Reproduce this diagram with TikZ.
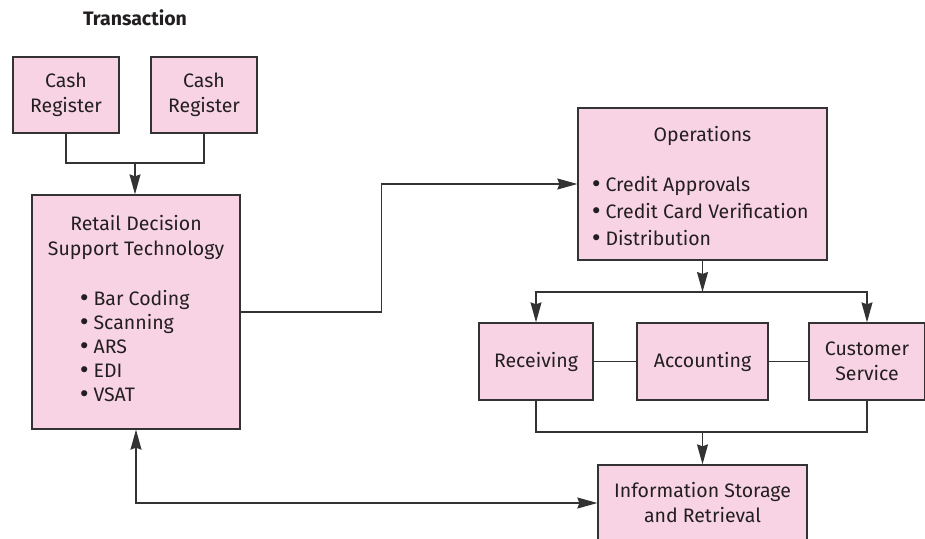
\documentclass[tikz,border=0pt]{standalone}
\usepackage{fontspec}
\setmainfont{Fira Sans}
\newfontfamily\dotfont{DejaVu Sans}
\newcommand\bul{{\dotfont\fontsize{21}{21}\selectfont •}\hspace{3pt}}
\usetikzlibrary{arrows.meta}
\definecolor{boxpink}{HTML}{F8D3E4}
\definecolor{edge}{HTML}{333333}
\definecolor{ink}{HTML}{231F20}
\tikzset{
  block/.style={draw=edge, fill=boxpink, line width=1.3pt, rectangle, inner sep=0pt},
  txt/.style={font=\fontsize{19.5}{25}\selectfont, text=ink, inner sep=0pt},
  wire/.style={draw=edge, line width=1.3pt},
  tip/.style={-{Stealth[length=20pt,width=11pt,inset=2pt]}},
  twotip/.style={{Stealth[length=20pt,width=11pt,inset=2pt]}-{Stealth[length=20pt,width=11pt,inset=2pt]}},
}
\begin{document}
\begin{tikzpicture}[x=1pt,y=-1pt]
\useasboundingbox (0,0) rectangle (925,538);
\clip (0,0) rectangle (925,538);

% heading
\node[txt, font=\fontsize{19.5}{22}\selectfont\bfseries] (head) at (135,18) {Transaction};

% point-of-sale registers
\node[block, minimum width=106pt, minimum height=76pt] (cr1) at (66,95) {};
\node[txt, align=center] at (cr1) {Cash\\Register};
\node[block, minimum width=106pt, minimum height=76pt] (cr2) at (204,95) {};
\node[txt, align=center] at (cr2) {Cash\\Register};

% decision support technology
\node[block, minimum width=208pt, minimum height=234pt] (rds) at (136,312) {};
\node[txt, align=center] (rdsT) at (136,237) {Retail Decision\\Support Technology};
\node[txt, align=left, anchor=west, font=\fontsize{19.5}{24}\selectfont] (rdsL) at (78,346)
  {\bul Bar Coding\\\bul Scanning\\\bul ARS\\\bul EDI\\\bul VSAT};

% operations
\node[block, minimum width=249pt, minimum height=152pt] (ops) at (702.5,184) {};
\node[txt] (opsT) at (702.5,136) {Operations};
\node[txt, align=left, anchor=west, font=\fontsize{19.5}{27}\selectfont] (opsL) at (590,211)
  {\bul Credit Approvals\\\bul Credit Card Verification\\\bul Distribution};

% departments
\node[block, minimum width=114pt, minimum height=77pt] (rec) at (536,361.5) {};
\node[txt] at (rec) {Receiving};
\node[block, minimum width=131pt, minimum height=77pt] (acc) at (702.5,361.5) {};
\node[txt] at (acc) {Accounting};
\node[block, minimum width=116pt, minimum height=77pt] (cs) at (867,361.5) {};
\node[txt, align=center] at (cs) {Customer\\Service};

% storage
\node[block, minimum width=209pt, minimum height=76pt] (isr) at (702.5,503) {};
\node[txt, align=center] at (isr) {Information Storage\\and Retrieval};

% junction points
\coordinate (topJ) at (135,163);
\coordinate (splitJ) at (702.5,292);
\coordinate (mergeJ) at (702.5,432);

% registers into decision support
\draw[wire] (cr1.south) |- (topJ) -| (cr2.south);
\draw[wire, tip] (topJ) -- (topJ|-rds.north);

% decision support to operations
\draw[wire, tip] (rds.east|-rds.center) -- ++(141,0) |- (ops.west);

% operations split to departments
\draw[wire, tip] (ops.south) -- (splitJ);
\draw[wire, tip] (splitJ) -| (rec.north);
\draw[wire, tip] (splitJ) -| (cs.north);

% links among departments
\draw[wire] (rec.east) -- (acc.west);
\draw[wire] (acc.east) -- (cs.west);

% departments merge into storage
\draw[wire] (rec.south) |- (mergeJ) -| (cs.south);
\draw[wire, tip] (mergeJ) -- (isr.north);

% two-way exchange between storage and decision support
\draw[wire, twotip] (rds.south) |- (isr.west);
\end{tikzpicture}
\end{document}
